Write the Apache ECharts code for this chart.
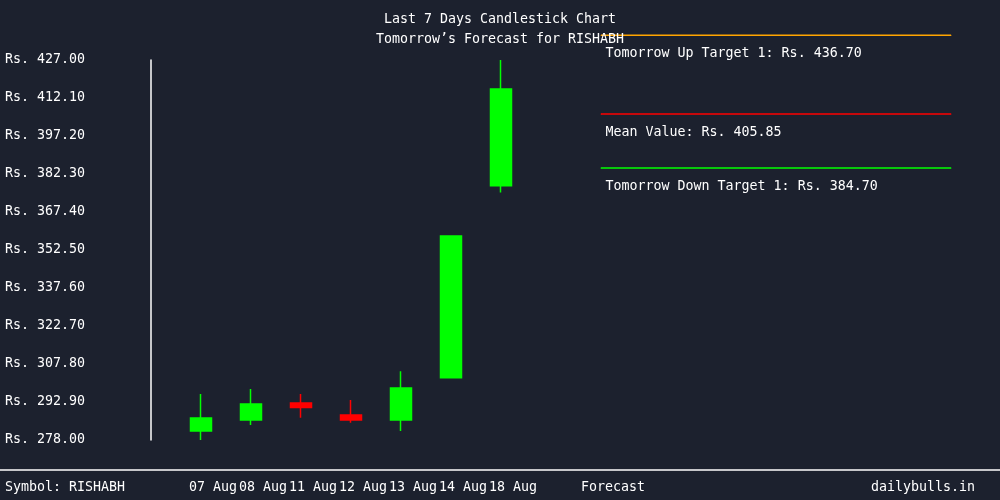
<!DOCTYPE html>
<html>
<head>
<meta charset="utf-8">
<script src="https://cdn.jsdelivr.net/npm/echarts@6/dist/echarts.min.js"></script>
<style>
  html, body { margin: 0; padding: 0; background: #1c212e; }
  #chart { width: 1000px; height: 500px; }
</style>
</head>
<body>
<div id="chart"></div>
<script>
// 数据区
const categories = ['', '07 Aug', '08 Aug', '11 Aug', '12 Aug', '13 Aug', '14 Aug', '18 Aug', '', 'Forecast', '', '', '', '', '', '', ''];
// [open, close, low, high]
const candles = [
  [1, 281.5, 286.6, 278.0, 296.0],
  [2, 285.8, 292.1, 283.9, 298.0],
  [3, 292.5, 290.7, 286.7, 296.0],
  [4, 287.8, 285.8, 284.8, 293.7],
  [5, 285.8, 298.4, 281.5, 305.0],
  [6, 302.4, 358.0, 302.4, 358.0],
  [7, 377.7, 415.6, 375.0, 427.0]
];
const yMin = 278.0;
const yMax = 427.0;
const yStep = 14.9;
const upTarget = 436.70;
const meanValue = 405.85;
const downTarget = 384.70;
const forecastStart = 9;
const forecastEnd = 16;

const font = 'DejaVu Sans Mono';
const fs = 13.3;
const $chart = echarts.init(document.getElementById('chart'));

function targetLine(val, color, text) {
  return {
    type: 'line',
    clip: false,
    symbol: 'circle',
    symbolSize: 1,
    silent: true,
    itemStyle: { color: color },
    lineStyle: { color: color, width: 1.5 },
    data: [
      {
        value: [forecastStart, val],
        label: {
          show: true,
          position: [5, 19],
          align: 'left',
          verticalAlign: 'middle',
          color: '#ffffff',
          fontFamily: font,
          fontSize: fs,
          formatter: text
        }
      },
      [forecastEnd, val]
    ]
  };
}

const option = {
  backgroundColor: '#1c212e',
  animation: false,
  title: {
    left: 'center',
    top: 8,
    text: 'Last 7 Days Candlestick Chart',
    subtext: 'Tomorrow\u2019s Forecast for RISHABH',
    itemGap: 7,
    textStyle: { color: '#ffffff', fontFamily: font, fontSize: fs, fontWeight: 'normal' },
    subtextStyle: { color: '#ffffff', fontFamily: font, fontSize: fs }
  },
  grid: { left: 151, right: 49, top: 60, bottom: 60 },
  xAxis: {
    type: 'category',
    data: categories,
    boundaryGap: false,
    axisLine: { show: false },
    axisTick: { show: false },
    splitLine: { show: false },
    axisLabel: {
      interval: 0,
      margin: 41,
      color: '#ffffff',
      fontFamily: font,
      fontSize: fs,
      padding: [0, 0, 0, 24]
    }
  },
  yAxis: {
    type: 'value',
    min: yMin,
    max: yMax,
    interval: yStep,
    axisLine: { show: true, lineStyle: { color: '#ffffff', width: 1.5 } },
    axisTick: { show: false },
    splitLine: { show: false },
    axisLabel: {
      align: 'left',
      margin: 146,
      color: '#ffffff',
      fontFamily: font,
      fontSize: fs,
      padding: [0, 0, 4, 0],
      formatter: v => 'Rs. ' + v.toFixed(2)
    }
  },
  graphic: [
    { type: 'line', shape: { x1: 0, y1: 470, x2: 1000, y2: 470 }, style: { stroke: '#ffffff', lineWidth: 1.5 } },
    { type: 'text', left: 5, top: 481, style: { text: 'Symbol: RISHABH', fill: '#ffffff', font: fs + 'px "' + font + '"' } },
    { type: 'text', right: 25, top: 481, style: { text: 'dailybulls.in', fill: '#ffffff', font: fs + 'px "' + font + '"' } }
  ],
  series: [
    {
      type: 'candlestick',
      barWidth: 21,
      data: candles,
      encode: { x: 0, y: [1, 2, 3, 4] },
      itemStyle: {
        color: '#00ff00',
        color0: '#ff0000',
        borderColor: '#00ff00',
        borderColor0: '#ff0000',
        borderWidth: 1.5
      }
    },
    targetLine(upTarget, '#ffa500', 'Tomorrow Up Target 1: Rs. ' + upTarget.toFixed(2)),
    targetLine(meanValue, '#ff0000', 'Mean Value: Rs. ' + meanValue.toFixed(2)),
    targetLine(downTarget, '#00ff00', 'Tomorrow Down Target 1: Rs. ' + downTarget.toFixed(2))
  ]
};

$chart.setOption(option, true);
</script>
</body>
</html>
